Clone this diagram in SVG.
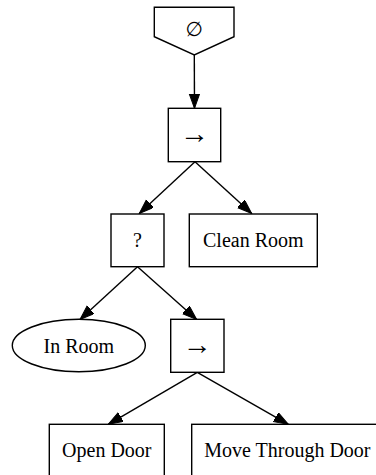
<svg xmlns="http://www.w3.org/2000/svg" width="376" height="475" viewBox="0 0 376 475">
  <style>
    .shape { fill: #ffffff; stroke: #000000; stroke-width: 1.4; }
    .label { font-family: "Liberation Serif", "Times New Roman", serif; font-size: 20px; fill: #000000; text-anchor: middle; }
    .arrowsym { font-family: "Liberation Serif", "Times New Roman", serif; font-size: 29px; fill: #000000; text-anchor: middle; }
    .sym { font-family: "DejaVu Sans", "Liberation Sans", sans-serif; font-size: 20px; fill: #000000; text-anchor: middle; }
    .edge { fill: none; stroke: #000000; stroke-width: 1.4; }
  </style>
  <defs>
    <marker id="arrow" markerUnits="userSpaceOnUse" markerWidth="16" markerHeight="12" refX="14.5" refY="5.2" orient="auto">
      <polygon points="0,0 14.5,5.2 0,10.4" fill="#000000" stroke="#000000" stroke-width="1"/>
    </marker>
  </defs>

  <g id="edges">
    <path class="edge" d="M194.3,55 L194.5,108.3" marker-end="url(#arrow)"/>
    <path class="edge" d="M195,161.7 L139.3,213.5" marker-end="url(#arrow)"/>
    <path class="edge" d="M195,161.7 L251.7,213.5" marker-end="url(#arrow)"/>
    <path class="edge" d="M137.5,266.7 L80,319.5" marker-end="url(#arrow)"/>
    <path class="edge" d="M137.5,266.7 L196.7,319.5" marker-end="url(#arrow)"/>
    <path class="edge" d="M197.3,372.3 L108.3,424.3" marker-end="url(#arrow)"/>
    <path class="edge" d="M197.3,372.3 L288.3,424.3" marker-end="url(#arrow)"/>
  </g>

  <g id="root">
    <polygon class="shape" points="154.3,7.3 234,7.3 234,36.7 194.3,55 154.3,36.7"/>
    <text class="sym" x="194.3" y="35.5">∅</text>
  </g>

  <g id="sequence1">
    <rect class="shape" x="168.3" y="108.3" width="52.4" height="53.4"/>
    <text class="arrowsym" x="194.5" y="143">→</text>
  </g>

  <g id="fallback">
    <rect class="shape" x="111" y="214" width="53" height="52.7"/>
    <text class="label" x="137.5" y="247">?</text>
  </g>

  <g id="clean_room">
    <rect class="shape" x="189.3" y="214" width="128" height="52.7"/>
    <text class="label" x="253.3" y="247">Clean Room</text>
  </g>

  <g id="in_room">
    <ellipse class="shape" cx="78.8" cy="345.5" rx="66.5" ry="26.2"/>
    <text class="label" x="78.8" y="352.5">In Room</text>
  </g>

  <g id="sequence2">
    <rect class="shape" x="170.7" y="319.3" width="53.3" height="53"/>
    <text class="arrowsym" x="197.3" y="354">→</text>
  </g>

  <g id="open_door">
    <rect class="shape" x="49.3" y="424.3" width="115" height="52.7"/>
    <text class="label" x="106.8" y="457">Open Door</text>
  </g>

  <g id="move_through_door">
    <rect class="shape" x="191.7" y="424.3" width="191.4" height="52.7"/>
    <text class="label" x="287.4" y="457">Move Through Door</text>
  </g>
</svg>
